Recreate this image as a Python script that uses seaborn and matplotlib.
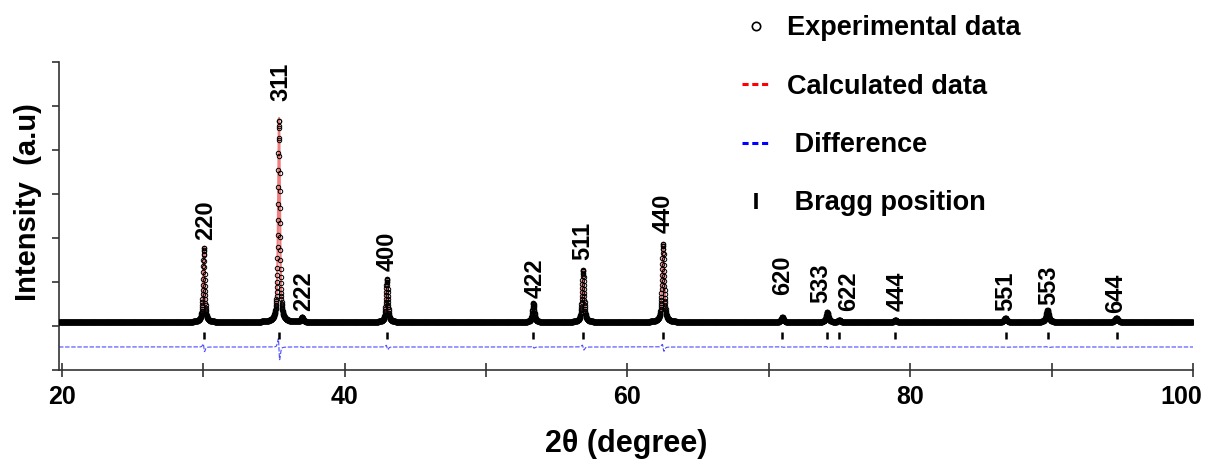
import numpy as np
import pandas as pd
import matplotlib
matplotlib.use("Agg")
import matplotlib.pyplot as plt
from matplotlib.lines import Line2D
from matplotlib.transforms import ScaledTranslation
import seaborn as sns

# Indexed reflections of the refined spinel phase
hkl = ["220", "311", "222", "400", "422", "511", "440",
       "620", "533", "622", "444", "551", "553", "644"]
two_theta = [30.05, 35.36, 37.00, 43.00, 53.35, 56.87, 62.53,
             70.96, 74.14, 74.99, 78.95, 86.74, 89.71, 94.59]
peak_height = [1705, 4637, 115, 1000, 433, 1205, 1796,
               115, 228, 46, 46, 92, 274, 92]
peak_fwhm = [0.15, 0.15, 0.16, 0.16, 0.17, 0.17, 0.18,
             0.19, 0.20, 0.20, 0.21, 0.22, 0.23, 0.24]
background = 90

# Bragg positions ticked under the pattern
bragg_positions = [30.05, 35.36, 43.00, 53.35, 56.87, 62.53,
                   70.96, 74.14, 74.99, 78.95, 86.74, 89.71, 94.59]

# Offset of the difference curve and its shift / intensity misfit terms
diff_offset = -477
shift_coef = 0.006
scale_coef = 0.015

# Scan grid
step = 0.01
scan = np.arange(19.8, 100.0 + step / 2, step)


def pseudo_voigt(x, x0, h, w, eta=0.7):
    g = np.exp(-4 * np.log(2) * ((x - x0) / w) ** 2)
    lor = 1.0 / (1.0 + 4 * ((x - x0) / w) ** 2)
    return h * (eta * lor + (1 - eta) * g)


calc = np.full_like(scan, background, dtype=float)
for pos, h, w in zip(two_theta, peak_height, peak_fwhm):
    calc += pseudo_voigt(scan, pos, h, w)

residual = shift_coef * np.gradient(calc, scan) - scale_coef * (calc - background)
obs = calc + residual
diff = diff_offset + residual

df = pd.DataFrame({"two_theta": scan, "obs": obs, "calc": calc, "diff": diff})

# Figure
sns.set_style("ticks")
plt.rcParams["font.family"] = ["Liberation Sans", "DejaVu Sans"]
plt.rcParams["font.weight"] = "bold"
for key in ("text.color", "axes.labelcolor", "xtick.color", "ytick.color"):
    plt.rcParams[key] = "black"

W, H = 1208, 470
fig = plt.figure(figsize=(W / 100, H / 100), dpi=100)
ax = fig.add_axes([59 / W, 1 - 370 / H, (1193 - 59) / W, (370 - 62) / H])

sns.lineplot(data=df, x="two_theta", y="calc", ax=ax, color="#f08080",
             lw=1.6, estimator=None, sort=False, zorder=2)
sns.lineplot(data=df, x="two_theta", y="obs", ax=ax, linestyle="",
             marker="o", markersize=3.2, markerfacecolor="none",
             markeredgecolor="black", markeredgewidth=0.7,
             estimator=None, sort=False, zorder=3)
sns.lineplot(data=df, x="two_theta", y="diff", ax=ax, color="#2b2bff",
             lw=0.8, linestyle=(0, (4, 1.5)), alpha=0.85,
             estimator=None, sort=False, zorder=2)
ax.vlines(bragg_positions, -290, -140, color="black", lw=1.8, zorder=3)

# Reflection labels
label_offsets = [(2, 7), (2, 17), (1, 6), (0, 7), (1.5, 5), (0, 9), (0, 10),
                 (0, 22), (-7, 9), (9, 9), (2, 9), (0, 7), (1, 5), (-1, 5)]
for name, pos, h, (dx, dy) in zip(hkl, two_theta, peak_height, label_offsets):
    ax.annotate(name, xy=(pos, background + h), xytext=(dx * 0.72, dy * 0.72),
                textcoords="offset points", rotation=90, ha="center",
                va="bottom", fontsize=17, fontweight="bold")

ax.set_xlim(19.8, 100)
ax.set_ylim(-1000, 6000)
xt = np.arange(20, 101, 10)
ax.set_xticks(xt)
ax.set_xticklabels([str(t) if t % 20 == 0 else "" for t in xt],
                   fontsize=18, fontweight="bold")
ax.set_yticks(np.arange(-1000, 6001, 1000))
ax.set_yticklabels([])

for side in ("top", "right"):
    ax.spines[side].set_visible(False)
for side in ("left", "bottom"):
    ax.spines[side].set_color("#333333")
    ax.spines[side].set_linewidth(1.2)
ax.tick_params(axis="x", direction="inout", length=10, width=1.2,
               color="#333333", pad=6)
ax.tick_params(axis="y", direction="out", length=5, width=1.2,
               color="#333333")

# keep the last tick label inside the canvas
last = ax.get_xticklabels()[-1]
last.set_transform(last.get_transform()
                   + ScaledTranslation(-0.12, 0, fig.dpi_scale_trans))

ax.set_xlabel("2θ (degree)", fontsize=22, fontweight="bold", labelpad=14)
ax.set_ylabel("Intensity  (a.u)", fontsize=21, fontweight="bold")
ax.yaxis.set_label_coords(-0.015, 0.545)

handles = [
    Line2D([], [], marker="o", ls="", mfc="none", mec="black", ms=6, mew=1.2),
    Line2D([], [], color="red", ls=(0, (2, 1.2)), lw=2.2),
    Line2D([], [], color="blue", ls=(0, (2, 1.2)), lw=2.2),
    Line2D([], [], marker="|", ls="", color="black", ms=12, mew=2.6),
]
labels = ["Experimental data", "Calculated data", " Difference", " Bragg position"]
fig.legend(handles, labels, loc="upper left",
           bbox_to_anchor=(742 / W, 1 - 15 / H), frameon=False,
           prop={"weight": "bold", "size": 19.5}, borderpad=0,
           borderaxespad=0, handlelength=1.05, handletextpad=0.6,
           labelspacing=1.2)

fig.savefig("out.png", dpi=100)
